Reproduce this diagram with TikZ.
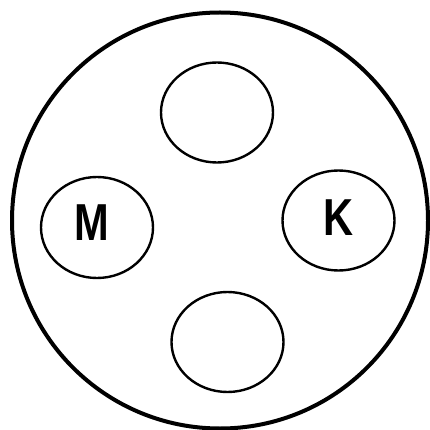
\documentclass[tikz,border=0pt]{standalone}
\usepackage{fontspec}
\setmainfont{Liberation Sans}
\begin{document}
\begin{tikzpicture}[x=1pt,y=-1pt]
\useasboundingbox (0,0) rectangle (430,430);
\draw[line width=4pt] (220,220.5) circle (208);
\draw[line width=2.4pt] (217,112.5) ellipse (56 and 50);
\draw[line width=2.4pt] (97,227.5) ellipse (56 and 50.5);
\draw[line width=2.4pt] (338.5,220.5) ellipse (56 and 50);
\draw[line width=2.4pt] (227.5,342) ellipse (56 and 50);
\node[xscale=0.8, font=\fontsize{52}{52}\selectfont\bfseries] (m) at (92,223) {M};
\node[xscale=0.8, font=\fontsize{52}{52}\selectfont\bfseries] (k) at (339,218) {K};
\end{tikzpicture}
\end{document}
